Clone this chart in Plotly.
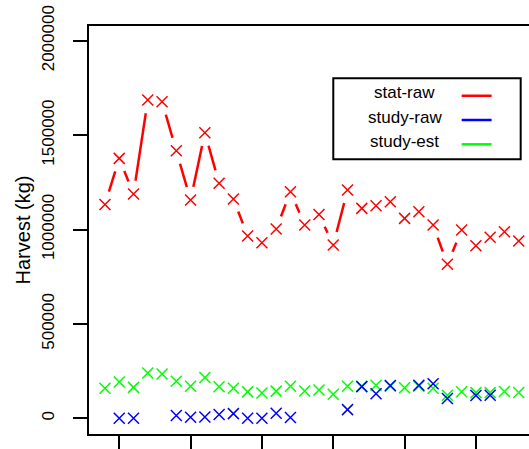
import plotly.graph_objects as go

years = list(range(1984, 2014))
series_names = ["stat-raw", "study-raw", "study-est"]
series_colors = ["#FF0000", "#0000FF", "#00FF00"]

stat_raw = [1133000, 1377000, 1188000, 1686000, 1677000, 1417000, 1156000, 1513000,
            1245000, 1162000, 966000, 930000, 1003000, 1200000, 1024000, 1080000,
            918000, 1209000, 1112000, 1126000, 1147000, 1059000, 1094000, 1024000,
            816000, 997000, 914000, 959000, 988000, 939000]
study_raw = [None, 0, 0, None, None, 15000, 6000, 7000, 20000, 25000, 0, 0, 27000, 4000,
             None, None, None, 46000, 168000, 130000, 174000, None, 175000, 183000,
             105000, None, 121000, 122000, None, None]
study_est = [159000, 192000, 164000, 240000, 235000, 196000, 170000, 216000, 167000,
             159000, 140000, 134000, 144000, 170000, 145000, 150000, 128000, 170000,
             170000, 175000, 170000, 162000, 170000, 159000, 122000, 141000, 136000,
             136000, 142000, 137000]

y_tickvals = [0, 500000, 1000000, 1500000, 2000000]
y_ticktext = ["0", "500000", "1000000", "1500000", "2000000"]
x_tickvals = [1985, 1990, 1995, 2000, 2005, 2010]

FONT = "Liberation Sans, Arial, sans-serif"

data = [stat_raw, study_est, study_raw]
cols = [series_colors[0], series_colors[2], series_colors[1]]

fig = go.Figure()
# connecting lines (R type="b")
for vals, c in zip(data, cols):
    fig.add_trace(go.Scatter(x=years, y=vals, mode="lines", connectgaps=False,
                             line=dict(color=c, width=2.5), hoverinfo="skip",
                             showlegend=False))
# gaps around points
for vals in data:
    fig.add_trace(go.Scatter(x=years, y=vals, mode="markers",
                             marker=dict(symbol="circle", size=27, color="white",
                                         line=dict(width=0)),
                             hoverinfo="skip", showlegend=False))
# X symbols
for vals, c in zip(data, cols):
    fig.add_trace(go.Scatter(x=years, y=vals, mode="markers",
                             marker=dict(symbol="x-thin-open", size=11, color=c,
                                         line=dict(color=c, width=1.5)),
                             showlegend=False))

# legend box (text on the left, line sample on the right)
lx0, lx1, ly0, ly1 = 0.5552, 0.9811, 0.6733, 0.8718
fig.add_shape(type="rect", xref="paper", yref="paper", x0=lx0, x1=lx1, y0=ly0, y1=ly1,
              line=dict(color="black", width=2), fillcolor="white", layer="above")
row_y = [0.829, 0.7696, 0.710]
for name, c, ry in zip(series_names, series_colors, row_y):
    fig.add_annotation(x=0.718, y=ry + 0.007, xref="paper", yref="paper", text=name,
                       showarrow=False, xanchor="center", yanchor="middle",
                       font=dict(family=FONT, size=17, color="black"))
    fig.add_shape(type="line", xref="paper", yref="paper", x0=0.847, x1=0.915,
                  y0=ry, y1=ry, line=dict(color=c, width=2.5), layer="above")

fig.update_layout(
    width=529, height=449,
    margin=dict(l=89, r=0, t=26, b=15),
    paper_bgcolor="white", plot_bgcolor="white",
    font=dict(family=FONT, color="black"),
    showlegend=False,
)
fig.update_xaxes(range=[1982.88, 2013.72], showgrid=False, zeroline=False,
                 showline=True, linecolor="black", linewidth=2, mirror=True,
                 ticks="outside", ticklen=16, tickwidth=2, tickcolor="black",
                 tickvals=x_tickvals, showticklabels=False)
fig.update_yaxes(range=[-83000, 2078000], showgrid=False, zeroline=False,
                 showline=True, linecolor="black", linewidth=2, mirror=False,
                 ticks="outside", ticklen=14, tickwidth=2, tickcolor="black",
                 tickvals=y_tickvals, ticktext=y_ticktext, tickangle=-90,
                 tickfont=dict(family=FONT, size=17, color="black"),
                 ticklabelstandoff=12,
                 title=dict(text="Harvest (kg)", font=dict(family=FONT, size=20, color="black"),
                            standoff=3))

fig.write_html("out.html")
